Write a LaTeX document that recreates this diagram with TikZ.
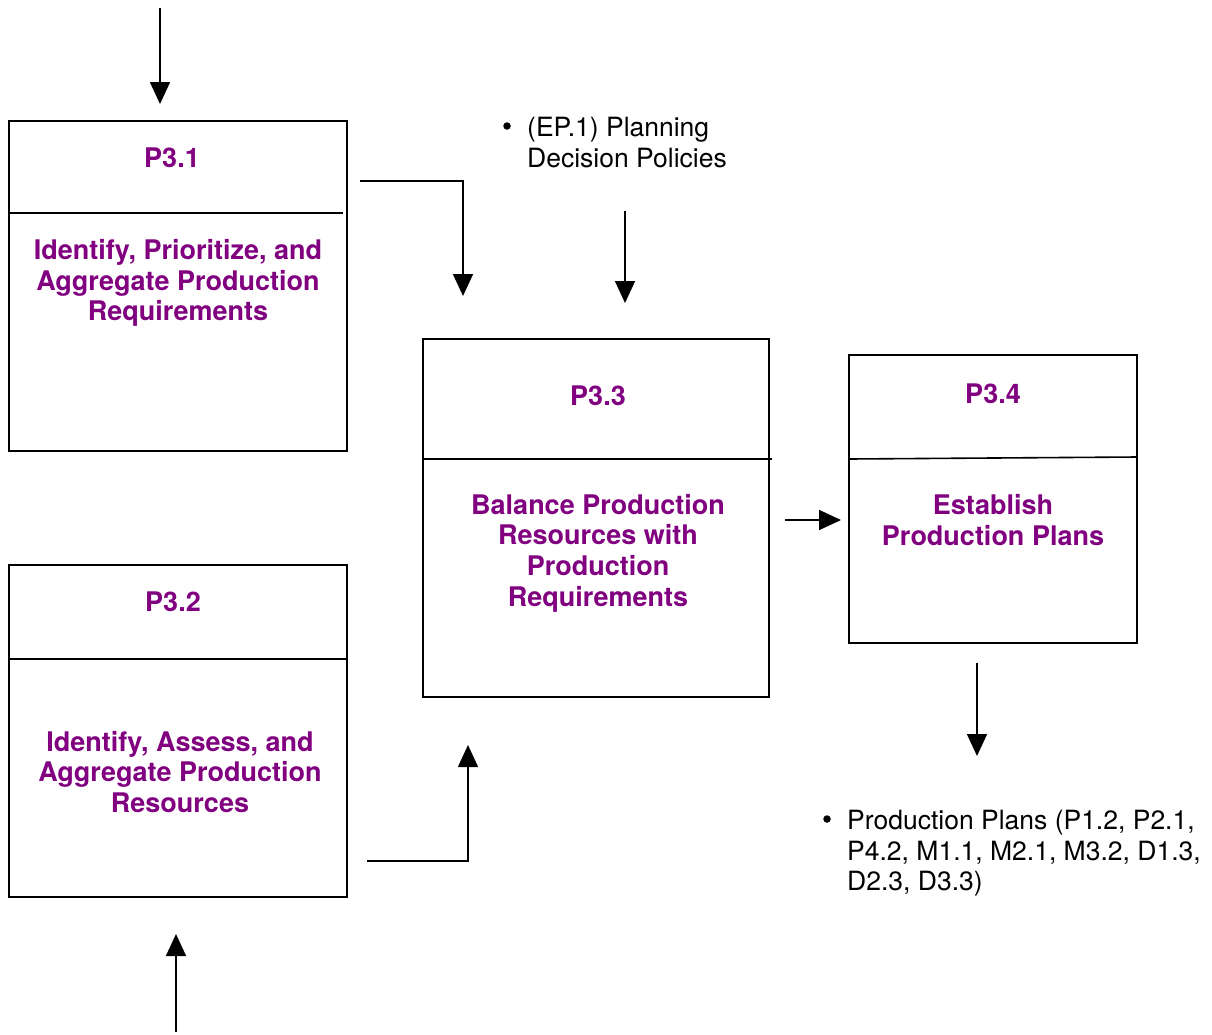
\documentclass[tikz,border=0pt]{standalone}
\usepackage{fontspec}
\setmainfont{TeX Gyre Heros}
\usetikzlibrary{arrows.meta}
\definecolor{procpurple}{HTML}{800080}
\begin{document}
\begin{tikzpicture}[x=1pt,y=-1pt,
  box/.style={draw=black,line width=1.6pt,minimum width=#1,inner sep=0pt},
  title/.style={text=procpurple,font=\fontsize{27}{30.7}\selectfont\bfseries,align=center,inner sep=0pt},
  plain/.style={font=\fontsize{26.5}{30.5}\selectfont,align=left,inner sep=0pt},
  dot/.style={circle,fill=black,inner sep=0pt,minimum size=7.5pt},
  flow/.style={line width=1.6pt,-{Triangle[length=22pt,width=20pt]}},
  divider/.style={line width=1.6pt}]
\useasboundingbox (0,0) rectangle (1212,1034);

% process boxes
\node[box=338pt,minimum height=330pt] (b31) at (178,286) {};
\node[box=338pt,minimum height=332pt] (b32) at (178,731) {};
\node[box=346pt,minimum height=358pt] (b33) at (596,518) {};
\node[box=288pt,minimum height=288pt] (b34) at (993,499) {};

% header dividers
\draw[divider] (9,213) -- (343,213);
\draw[divider] (9,659) -- (347,659);
\draw[divider] (423,459) -- (772,459);
\draw[divider] (849,459) -- (1137,457);

% titles and descriptions
\node[title] (t31) at (172,158) {P3.1};
\node[title] (d31) at (178,283) {Identify, Prioritize, and\\Aggregate Production\\Requirements};
\node[title] (t32) at (173,602) {P3.2};
\node[title] (d32) at (180,772) {Identify, Assess, and\\Aggregate Production\\Resources};
\node[title] (t33) at (598,396) {P3.3};
\node[title] (d33) at (598,553) {Balance Production\\Resources with\\Production\\Requirements};
\node[title] (t34) at (993,394) {P3.4};
\node[title] (d34) at (993,520) {Establish\\Production Plans};

% external inputs and outputs
\node[dot] (bul1) at (507,126) {};
\node[plain,anchor=north west] (ep1) at (527,117) {(EP.1) Planning\\Decision Policies};
\node[dot] (bul2) at (827,819) {};
\node[plain,anchor=north west] (pp) at (847,810) {Production Plans (P1.2, P2.1,\\P4.2, M1.1, M2.1, M3.2, D1.3,\\D2.3, D3.3)};

% connector end points
\coordinate (inTopS) at (160,8);
\coordinate (inTopE) at (160,104);
\coordinate (a1s) at (360,181);
\coordinate (a1c) at (463,181);
\coordinate (a1e) at (463,296);
\coordinate (a2s) at (625,211);
\coordinate (a2e) at (625,303);
\coordinate (a3s) at (785,520);
\coordinate (a3e) at (841,520);
\coordinate (a4s) at (977,663);
\coordinate (a4e) at (977,756);
\coordinate (a5s) at (367,861);
\coordinate (a5c) at (468,861);
\coordinate (a5e) at (468,745);
\coordinate (inBotS) at (176,1032);
\coordinate (inBotE) at (176,934);

% connectors
\draw[flow] (inTopS) -- (inTopE);
\draw[flow] (a1s) -- (a1c) -- (a1e);
\draw[flow] (a2s) -- (a2e);
\draw[flow] (a3s) -- (a3e);
\draw[flow] (a4s) -- (a4e);
\draw[flow] (a5s) -- (a5c) -- (a5e);
\draw[flow] (inBotS) -- (inBotE);
\end{tikzpicture}
\end{document}
